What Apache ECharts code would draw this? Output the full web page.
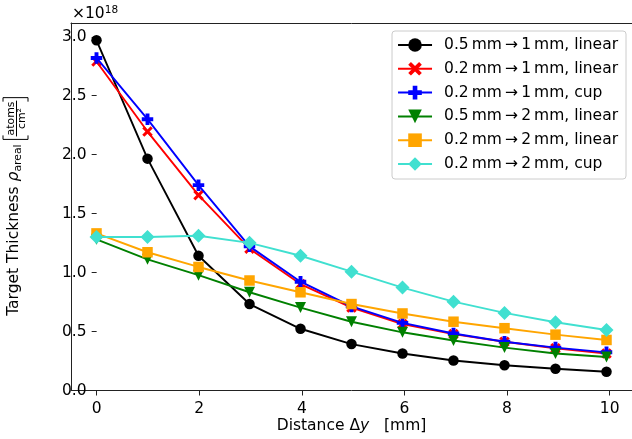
<!DOCTYPE html>
<html><head><meta charset="utf-8">
<script src="https://cdn.jsdelivr.net/npm/echarts@6/dist/echarts.min.js"></script>
<style>html,body{margin:0;padding:0;background:#fff}#c{width:632px;height:439px}</style>
</head><body><div id="c"></div>
<script>
// ---- data ----
const xValues = [0, 1, 2, 3, 4, 5, 6, 7, 8, 9, 10];
const s05to1linear = [2.97, 1.965, 1.14, 0.73, 0.52, 0.39, 0.31, 0.25, 0.21, 0.18, 0.155];
const s02to1linear = [2.79, 2.195, 1.655, 1.20, 0.90, 0.70, 0.56, 0.475, 0.41, 0.355, 0.31];
const s02to1cup    = [2.82, 2.30, 1.74, 1.22, 0.92, 0.71, 0.57, 0.48, 0.41, 0.36, 0.32];
const s05to2linear = [1.28, 1.11, 0.975, 0.83, 0.70, 0.58, 0.49, 0.42, 0.36, 0.31, 0.28];
const s02to2linear = [1.33, 1.17, 1.045, 0.93, 0.83, 0.73, 0.65, 0.58, 0.525, 0.47, 0.425];
const s02to2cup    = [1.30, 1.30, 1.31, 1.25, 1.14, 1.005, 0.87, 0.75, 0.655, 0.575, 0.51];
const seriesNames = [
  '0.5\u2009mm\u2009\u2192\u20091\u2009mm, linear',
  '0.2\u2009mm\u2009\u2192\u20091\u2009mm, linear',
  '0.2\u2009mm\u2009\u2192\u20091\u2009mm, cup',
  '0.5\u2009mm\u2009\u2192\u20092\u2009mm, linear',
  '0.2\u2009mm\u2009\u2192\u20092\u2009mm, linear',
  '0.2\u2009mm\u2009\u2192\u20092\u2009mm, cup'
];
const xTickMin = 0, xTickMax = 10, xTickStep = 2;
const yTickMin = 0, yTickMax = 3, yTickStep = 0.5;
const xLimits = [-0.5, 10.5];
const yLimits = [0, 3.117];

// ---- styles ----
const FONT = 'DejaVu Sans';
const FS = 15.5;
const colors = ['#000000', '#ff0000', '#0000ff', '#008000', '#ffa500', '#40e0d0'];
const symbols = [
  'circle',
  'path://M0,2 L2,0 L5,3 L8,0 L10,2 L7,5 L10,8 L8,10 L5,7 L2,10 L0,8 L3,5 Z',
  'path://M3.3,0 H6.7 V3.3 H10 V6.7 H6.7 V10 H3.3 V6.7 H0 V3.3 H3.3 Z',
  'path://M0,0 L10,0 L5,9 Z',
  'rect',
  'path://M5,0 L10,5 L5,10 L0,5 Z'
];
const symbolSizes = [10.5, 10.5, 11.5, 11, 10.5, 14];
const allData = [s05to1linear, s02to1linear, s02to1cup, s05to2linear, s02to2linear, s02to2cup];

const W = 632, H = 439;
const g0 = {left: 71, top: 23, right: -3.3, bottom: 48.5};
const plotW = W - g0.left - g0.right, plotH = H - g0.top - g0.bottom;
const g1 = {
  left: g0.left + plotW * (xTickMin - xLimits[0]) / (xLimits[1] - xLimits[0]),
  right: g0.right + plotW * (xLimits[1] - xTickMax) / (xLimits[1] - xLimits[0]),
  top: g0.top + plotH * (yLimits[1] - yTickMax) / (yLimits[1] - yLimits[0]),
  bottom: g0.bottom + plotH * (yTickMin - yLimits[0]) / (yLimits[1] - yLimits[0])
};
const spineColor = '#222';

// text measuring
const mctx = document.createElement('canvas').getContext('2d');
function tw(t, size, style) { mctx.font = (style || '') + ' ' + size + 'px "' + FONT + '"'; return mctx.measureText(t).width; }

// y-label group (rotated)
const subFS = FS * 0.7;
const t1 = 'Target Thickness ';
const w1 = tw(t1, FS), wr = tw('\u03c1', FS, 'italic'), wa = tw('areal', subFS);
const fx0 = w1 + wr + wa + 5;
const wAt = tw('atoms', subFS), wCm = tw('cm\u00b2', subFS);
const wFrac = Math.max(wAt, wCm) + 2;
const labelLen = fx0 + 6 + wFrac;
const plotCenterY = g0.top + plotH / 2;
const tc = '#000';
const ylabelChildren = [
  {type: 'text', x: 0, y: 0, style: {text: t1, font: FS + 'px "' + FONT + '"', fill: tc, verticalAlign: 'middle', align: 'left'}},
  {type: 'text', x: w1, y: 0, style: {text: '\u03c1', font: 'italic ' + FS + 'px "' + FONT + '"', fill: tc, verticalAlign: 'middle', align: 'left'}},
  {type: 'text', x: w1 + wr, y: 4.5, style: {text: 'areal', font: subFS + 'px "' + FONT + '"', fill: tc, verticalAlign: 'middle', align: 'left'}},
  {type: 'polyline', shape: {points: [[fx0 + 4, -11], [fx0, -11], [fx0, 14], [fx0 + 4, 14]]}, style: {stroke: tc, lineWidth: 1, fill: null}},
  {type: 'line', shape: {x1: fx0 + 3, y1: 2.5, x2: fx0 + 3 + wFrac, y2: 2.5}, style: {stroke: tc, lineWidth: 1}},
  {type: 'text', x: fx0 + 3 + wFrac / 2, y: -3, style: {text: 'atoms', font: subFS + 'px "' + FONT + '"', fill: tc, verticalAlign: 'middle', align: 'center'}},
  {type: 'text', x: fx0 + 3 + wFrac / 2, y: 8.5, style: {text: 'cm\u00b2', font: subFS + 'px "' + FONT + '"', fill: tc, verticalAlign: 'middle', align: 'center'}},
  {type: 'polyline', shape: {points: [[fx0 + 2 + wFrac, -11], [fx0 + 6 + wFrac, -11], [fx0 + 6 + wFrac, 14], [fx0 + 2 + wFrac, 14]]}, style: {stroke: tc, lineWidth: 1, fill: null}}
];

const series = allData.map((d, i) => ({
  name: seriesNames[i],
  type: 'line',
  xAxisIndex: 0, yAxisIndex: 0,
  data: xValues.map((x, j) => [x, d[j]]),
  symbol: symbols[i],
  symbolSize: symbolSizes[i],
  showAllSymbol: true,
  color: colors[i],
  itemStyle: {color: colors[i]},
  lineStyle: {color: colors[i], width: 1.9},
  emphasis: {disabled: true},
  z: 2 + i
}));

const chart = echarts.init(document.getElementById('c'), null, {renderer: 'canvas'});
chart.setOption({
  animation: false,
  backgroundColor: '#fff',
  textStyle: {fontFamily: FONT},
  grid: [
    Object.assign({show: false, containLabel: false}, g0),
    Object.assign({show: false, containLabel: false}, g1)
  ],
  xAxis: [
    {type: 'value', gridIndex: 0, min: xLimits[0], max: xLimits[1], position: 'bottom',
     axisLine: {show: true, onZero: false, lineStyle: {color: spineColor, width: 1}},
     axisTick: {show: false}, axisLabel: {show: false}, splitLine: {show: false},
     name: 'Distance \u0394{i|y}   [mm]', nameLocation: 'middle', nameGap: 28,
     nameTextStyle: {fontFamily: FONT, fontSize: FS, color: '#000', rich: {i: {fontFamily: FONT, fontSize: FS, fontStyle: 'italic', color: '#000'}}}},
    {type: 'value', gridIndex: 1, min: xTickMin, max: xTickMax, interval: xTickStep,
     axisLine: {show: false}, splitLine: {show: false},
     axisTick: {show: true, inside: false, length: 5, lineStyle: {color: spineColor, width: 1}},
     axisLabel: {show: true, margin: 10, fontFamily: FONT, fontSize: FS, color: '#000'}},
    {type: 'value', gridIndex: 0, min: xLimits[0], max: xLimits[1], position: 'top',
     axisLine: {show: true, onZero: false, lineStyle: {color: spineColor, width: 1}},
     axisTick: {show: false}, axisLabel: {show: false}, splitLine: {show: false}}
  ],
  yAxis: [
    {type: 'value', gridIndex: 0, min: yLimits[0], max: yLimits[1], position: 'left',
     axisLine: {show: true, onZero: false, lineStyle: {color: spineColor, width: 1}},
     axisTick: {show: false}, axisLabel: {show: false}, splitLine: {show: false}},
    {type: 'value', gridIndex: 1, min: yTickMin, max: yTickMax, interval: yTickStep,
     axisLine: {show: false}, splitLine: {show: false},
     axisTick: {show: true, inside: false, length: 5, lineStyle: {color: spineColor, width: 1}},
     axisLabel: {show: true, margin: 10, fontFamily: FONT, fontSize: FS, color: '#000', formatter: v => v.toFixed(1)}}
  ],
  legend: {
    show: true, orient: 'vertical', right: 6, top: 31,
    data: seriesNames,
    itemWidth: 34, itemHeight: 17, itemGap: 7.8,
    padding: [6, 8, 7, 5],
    backgroundColor: 'rgba(255,255,255,0.8)', borderColor: '#cccccc', borderWidth: 1, borderRadius: 3,
    textStyle: {fontFamily: FONT, fontSize: FS, color: '#000', lineHeight: 16, padding: [0, 0, 0, 7]},
    selectedMode: false
  },
  graphic: [
    {type: 'text', left: 72, top: 5, style: {text: '\u00d710{s|18}', font: FS + 'px "' + FONT + '"', fill: '#000',
      rich: {s: {fontFamily: FONT, fontSize: 10.5, fill: '#000', padding: [0, 0, 7, 0]}}}},
    {type: 'group', x: 14, y: plotCenterY + labelLen / 2, rotation: Math.PI / 2, children: ylabelChildren}
  ],
  series: series
});
</script>
</body></html>
